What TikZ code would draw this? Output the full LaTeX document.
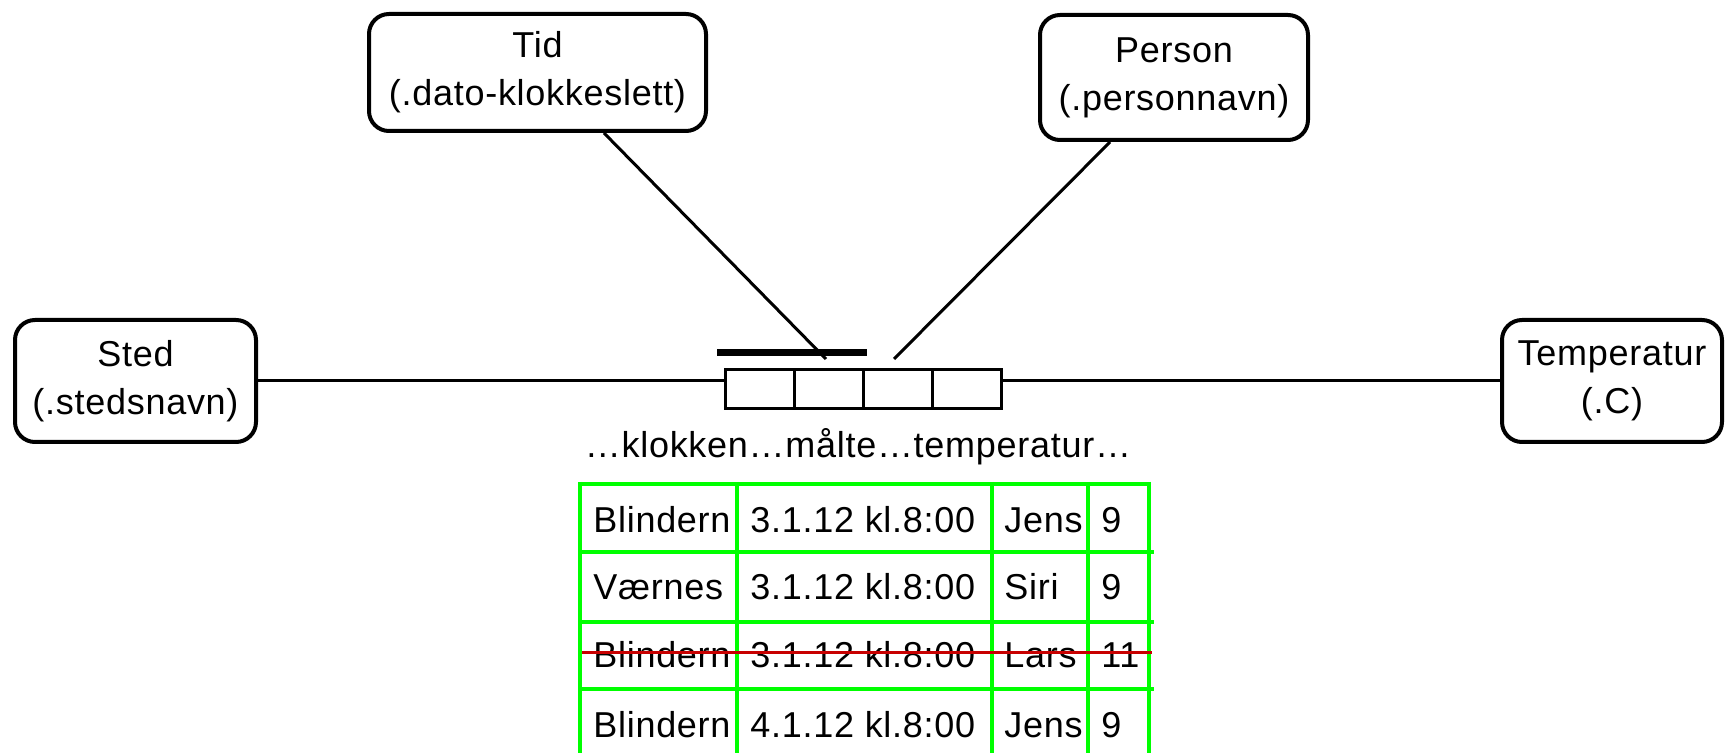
\documentclass[tikz,border=0pt]{standalone}
\usepackage{fontspec}
\setmainfont{Liberation Sans}[LetterSpace=2]
\definecolor{tabgreen}{RGB}{0,255,0}
\definecolor{strikered}{RGB}{200,0,0}
\begin{document}
\begin{tikzpicture}[x=0.5pt,y=-0.5pt,
  ent/.style={draw, line width=2pt, rounded corners=10pt, inner sep=0pt, align=center, font=\fontsize{18}{24}\selectfont},
  conn/.style={line width=1.5pt},
  cell/.style={draw, line width=1.5pt, minimum width=34.5pt, minimum height=19.5pt, inner sep=0pt, outer sep=0pt},
  gridline/.style={draw=tabgreen, line width=2pt},
  strike/.style={draw=strikered, line width=1.5pt},
  txt/.style={anchor=base west, inner sep=0pt, font=\fontsize{18}{24}\selectfont}]
\useasboundingbox (0,0) rectangle (1726,753);

% entity boxes
\node[ent, minimum width=120.5pt, minimum height=61pt] (sted) at (135.5,381) {Sted\\(.stedsnavn)};
\node[ent, minimum width=110pt, minimum height=61pt] (temp) at (1612,381) {Temperatur\\(.C)};
\node[ent, minimum width=168.5pt, minimum height=58.5pt] (tid) at (537.5,72.5) {Tid\\(.dato-klokkeslett)};
\node[ent, minimum width=134pt, minimum height=62.5pt] (person) at (1174,77.5) {Person\\(.personnavn)};

% relation cells
\node[cell] (c1) at (759.5,389.5) {};
\node[cell] (c2) at (828.5,389.5) {};
\node[cell] (c3) at (897.5,389.5) {};
\node[cell] (c4) at (966.5,389.5) {};

% connectors
\coordinate (tidend) at (826,359);
\coordinate (perend) at (894,359);
\draw[conn] (sted.east) -- (sted.east -| c1.west);
\draw[conn] (c4.east |- temp.west) -- (temp.west);
\draw[conn] ([xshift=33.25pt]tid.south) -- (tidend);
\draw[conn] ([xshift=-32pt]person.south) -- (perend);

% uniqueness bar
\coordinate (barL) at (717,353);
\coordinate (barR) at (867,353);
\draw[line width=3.5pt] (barL) -- (barR);

% sentence
\node[anchor=base, inner sep=0pt, font=\fontsize{18}{24}\selectfont] (sent) at (858,458) {…klokken…målte…temperatur…};

% table text
\node[txt] (r1a) at (593,533) {Blindern};
\node[txt] (r1b) at (750,533) {3.1.12 kl.8:00};
\node[txt] (r1c) at (1004,533) {Jens};
\node[txt] (r1d) at (1101,533) {9};
\node[txt] (r2a) at (593,600) {Værnes};
\node[txt] (r2b) at (750,600) {3.1.12 kl.8:00};
\node[txt] (r2c) at (1004,600) {Siri};
\node[txt] (r2d) at (1101,600) {9};
\node[txt] (r3a) at (593,668) {Blindern};
\node[txt] (r3b) at (750,668) {3.1.12 kl.8:00};
\node[txt] (r3c) at (1004,668) {Lars};
\node[txt] (r3d) at (1101,668) {11};
\node[txt] (r4a) at (593,738) {Blindern};
\node[txt] (r4b) at (750,738) {4.1.12 kl.8:00};
\node[txt] (r4c) at (1004,738) {Jens};
\node[txt] (r4d) at (1101,738) {9};

% table grid
\draw[gridline] (578,484) -- (1151,484);
\foreach \y in {552,622,689} \draw[gridline] (578,\y) -- (1154,\y);
\foreach \x in {580,737,992,1088,1149} \draw[gridline] (\x,482) -- (\x,753);

% strike-through
\draw[strike] (582,653) -- (1152,653);
\end{tikzpicture}
\end{document}
